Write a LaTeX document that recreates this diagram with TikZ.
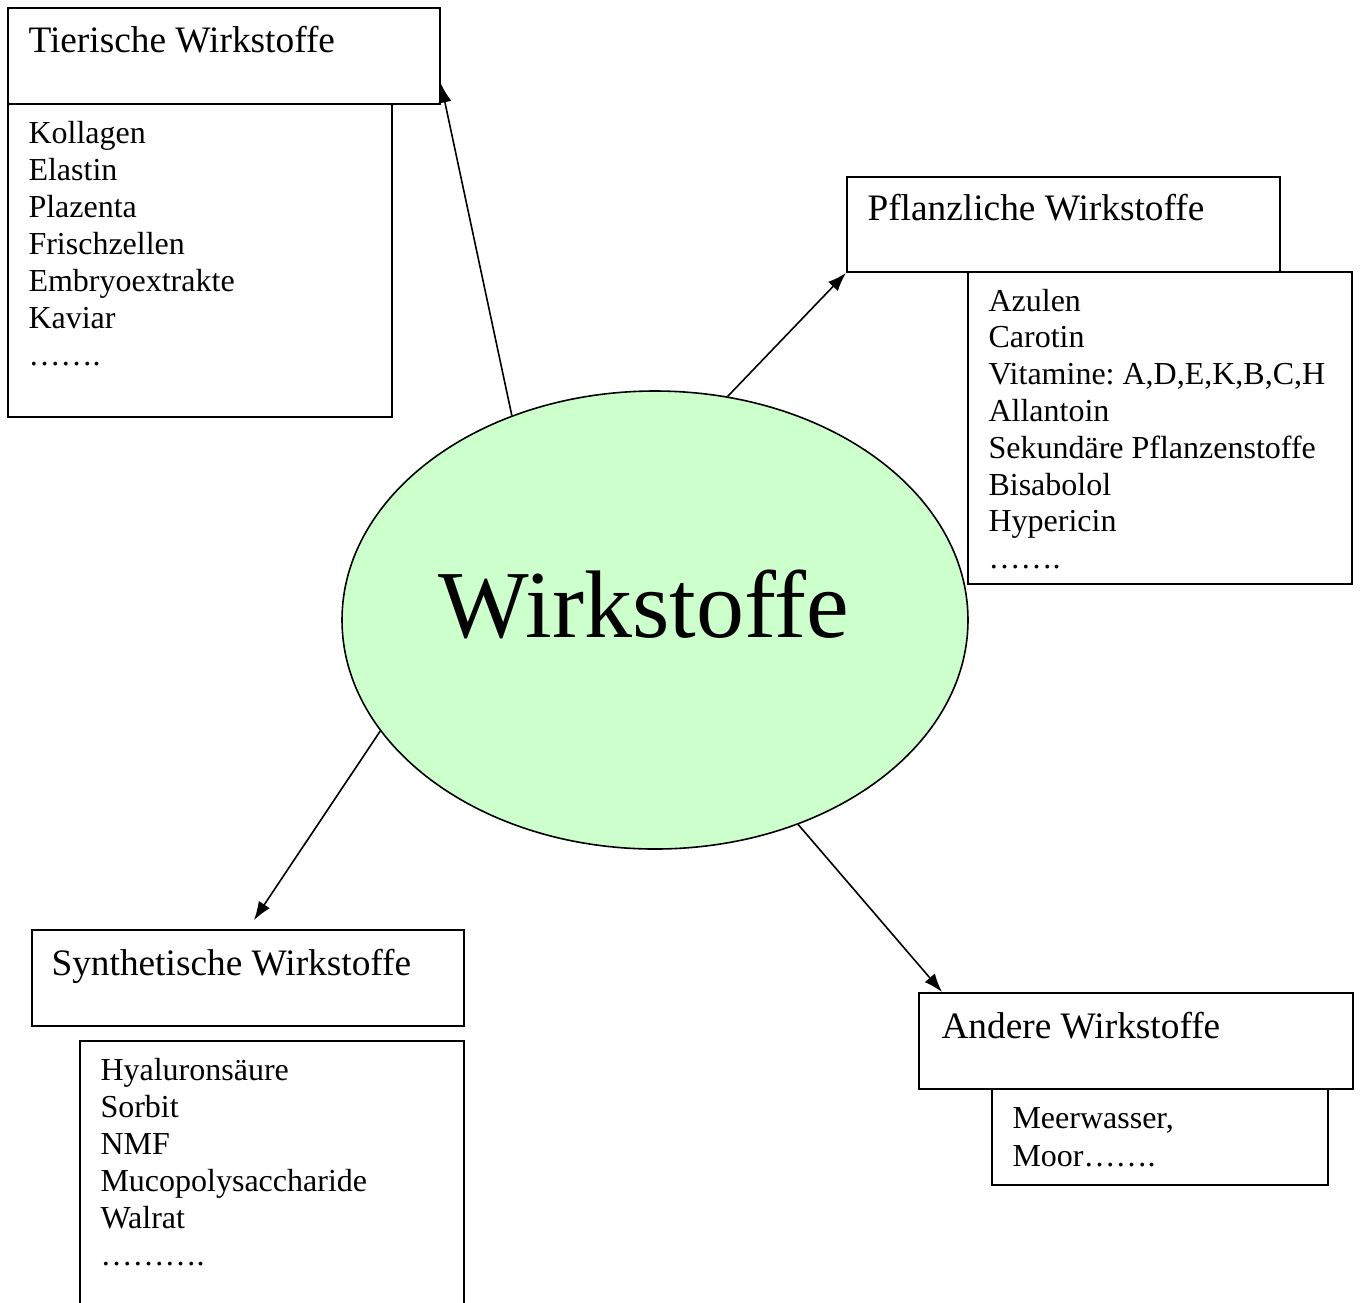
\documentclass[tikz,border=0pt]{standalone}
\usepackage{fontspec}
\setmainfont{Liberation Serif}
\usetikzlibrary{shapes.geometric,arrows.meta}
\frenchspacing

\definecolor{hellgruen}{RGB}{204,255,204}

\tikzset{
  kasten/.style={draw, line width=0.75pt, anchor=north west, inner sep=0pt},
  titel/.style={anchor=base west, inner sep=0pt, font=\fontsize{14}{16}\selectfont},
  eintrag/.style={anchor=base west, inner sep=0pt, font=\fontsize{12}{14}\selectfont},
  kern/.style={ellipse, draw, line width=0.6pt, fill=hellgruen, inner sep=0pt},
  pfeil/.style={line width=0.6pt, -{Latex[length=7pt,width=5pt]}}
}

\begin{document}
\begin{tikzpicture}[x=0.375pt,y=-0.375pt]
    \clip (0,0) rectangle (1361,1302);

    % Mitte
    \node[kern, minimum width=234.75pt, minimum height=171.75pt] (wirk) at (655,620) {};
    \node[anchor=base, inner sep=0pt, font=\fontsize{36}{40}\selectfont] (wirktext) at (644,637) {Wirkstoffe};

    % Tierische Wirkstoffe
    \node[kasten, minimum width=162pt, minimum height=36pt] (tierkopf) at (7,7) {};
    \node[kasten, minimum width=144pt, minimum height=117.4pt] (tierliste) at (7,103) {};
    \node[titel] (tiertitel) at (28,52) {Tierische Wirkstoffe};
    \foreach \name [count=\i from 0] in {Kollagen, Elastin, Plazenta, Frischzellen, Embryoextrakte, Kaviar, …….}
        \node[eintrag] (tier\i) at (28,143+37*\i) {\name};

    % Pflanzliche Wirkstoffe
    \node[kasten, minimum width=162.4pt, minimum height=35.6pt] (pflkopf) at (846,176) {};
    \node[kasten, minimum width=144pt, minimum height=117pt] (pflliste) at (967,271) {};
    \node[titel] (pfltitel) at (867,220) {Pflanzliche Wirkstoffe};
    \foreach \name [count=\i from 0] in {Azulen, Carotin, {Vitamine: A,D,E,K,B,C,H}, Allantoin, Sekundäre Pflanzenstoffe, Bisabolol, Hypericin, …….}
        \node[eintrag] (pfl\i) at (988,311+36.8*\i) {\name};

    % Synthetische Wirkstoffe
    \node[kasten, minimum width=162pt, minimum height=36pt] (synkopf) at (31,929) {};
    \node[kasten, minimum width=144pt, minimum height=120pt] (synliste) at (79,1040) {};
    \node[titel] (syntitel) at (51,975) {Synthetische Wirkstoffe};
    \foreach \name [count=\i from 0] in {Hyaluronsäure, Sorbit, NMF, Mucopolysaccharide, Walrat, ……….}
        \node[eintrag] (syn\i) at (100,1080+37*\i) {\name};

    % Andere Wirkstoffe
    \node[kasten, minimum width=162.75pt, minimum height=36pt] (andkopf) at (918,992) {};
    \node[kasten, minimum width=126pt, minimum height=36pt] (andliste) at (991,1088) {};
    \node[titel] (andtitel) at (941,1038) {Andere Wirkstoffe};
    \node[eintrag] (and0) at (1012,1128) {Meerwasser,};
    \node[eintrag] (and1) at (1012,1166) {Moor…….};

    % Pfeile
    \draw[pfeil] (wirk.125) -- ([yshift=7.9pt]tierkopf.south east);
    \draw[pfeil] (wirk.72) -- (pflkopf.south west);
    \draw[pfeil, shorten >=4pt] (wirk.202) -- (synkopf.north);
    \draw[pfeil] (wirk.305) -- ([xshift=9pt]andkopf.north west);
\end{tikzpicture}
\end{document}
